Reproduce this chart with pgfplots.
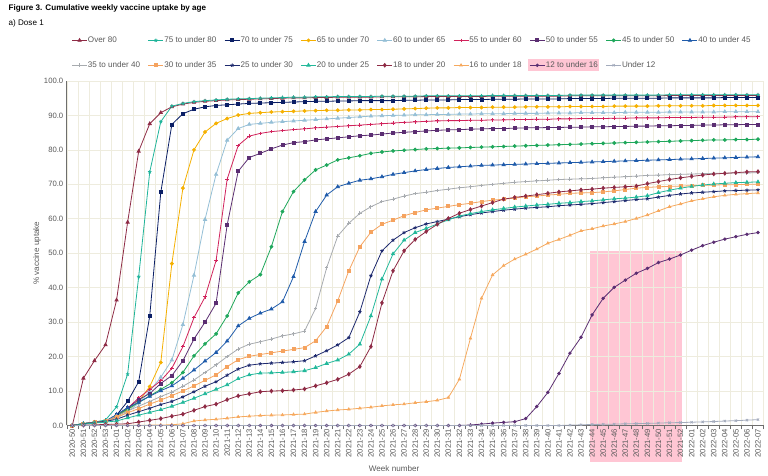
\documentclass[border=0pt]{standalone}
\usepackage{fontspec}
\setmainfont{Liberation Sans}
\usepackage{pgfplots}
\usepackage{pgfplotstable}
\pgfplotsset{compat=1.18}
\definecolor{c80}{RGB}{142,43,69}
\definecolor{c75}{RGB}{31,180,154}
\definecolor{c70}{RGB}{11,31,101}
\definecolor{c65}{RGB}{245,176,0}
\definecolor{c60}{RGB}{149,191,214}
\definecolor{c55}{RGB}{209,34,91}
\definecolor{c50}{RGB}{91,46,114}
\definecolor{c45}{RGB}{30,167,91}
\definecolor{c40}{RGB}{31,91,170}
\definecolor{c35}{RGB}{167,171,175}
\definecolor{c30}{RGB}{245,163,95}
\definecolor{c25}{RGB}{30,42,110}
\definecolor{c20}{RGB}{34,184,154}
\definecolor{c18}{RGB}{142,43,69}
\definecolor{c16}{RGB}{246,169,94}
\definecolor{c12}{RGB}{91,46,114}
\definecolor{cu12}{RGB}{163,171,188}
\definecolor{gridc}{RGB}{238,236,222}
\definecolor{axisgray}{RGB}{110,110,110}
\definecolor{labelc}{RGB}{89,89,89}
\definecolor{pinkhl}{RGB}{255,198,212}

\pgfplotstableread{
x o80 s75 s70 s65 s60 s55 s50 s45 s40 s35 s30 s25 s20 s18 s16 s12 su12
0 0 0 0 0 0 0 0 0 0 0 0 0 0 0 0 0 0
1 13.7 0.6 0.5 0.5 0.5 0.5 0.5 0.5 0.5 0.5 0.5 0.5 0.4 0.1 0 0 0
2 18.8 1.0 0.9 0.9 0.8 0.9 0.9 0.9 0.9 0.9 0.9 0.9 0.7 0.2 0 0 0
3 23.4 1.6 1.3 1.2 1.1 1.2 1.2 1.2 1.2 1.2 1.2 1.2 1.0 0.3 0 0 0
4 36.4 5.4 3.0 2.5 2.0 3.0 2.6 3.0 3.2 2.8 2.4 1.8 1.3 0.4 0.05 0 0
5 59.0 14.9 7.0 4.5 4.0 5.0 5.0 4.7 5.2 4.2 3.7 3.0 2.2 0.5 0.1 0 0
6 79.6 43.2 12.7 7.0 6.5 8.0 7.5 6.7 6.7 5.6 4.9 4.0 3.0 1.0 0.1 0 0
7 87.6 73.6 31.8 11.3 10.0 10.5 9.3 8.6 8.5 7.0 6.2 5.0 3.8 1.5 0.1 0 0
8 90.8 88.2 67.7 18.3 14.0 13.0 12.2 10.5 10.1 8.4 7.4 6.1 4.6 2.0 0.15 0 0
9 92.5 92.7 87.4 47.0 19.0 16.6 14.5 12.4 11.5 9.7 8.7 7.0 5.6 2.7 0.2 0 0
10 93.3 93.5 90.5 68.9 29.3 22.9 18.8 15.4 13.7 11.4 10.0 8.3 6.7 3.3 0.5 0 0
11 93.8 94.0 91.8 80.0 43.6 31.3 25.1 20.2 16.1 13.2 11.5 9.8 7.9 4.4 1.3 0 0
12 94.1 94.3 92.5 85.2 59.8 37.3 30.0 23.7 18.7 15.4 13.1 11.4 9.2 5.5 1.6 0 0
13 94.3 94.5 92.9 87.7 72.9 47.9 35.5 26.6 21.2 17.6 14.7 12.7 10.5 6.2 1.8 0 0
14 94.5 94.7 93.1 89.1 82.8 71.5 58.2 31.8 24.5 20.0 17.1 14.6 11.8 7.5 2.1 0 0
15 94.6 94.8 93.3 90.1 86.2 81.3 73.8 38.5 28.9 22.2 19.1 16.4 13.6 8.6 2.5 0 0
16 94.7 94.9 93.5 90.6 87.4 84.0 77.8 41.7 31.1 23.6 20.1 17.5 14.7 9.2 2.7 0 0
17 94.8 95.0 93.6 90.8 87.7 84.8 79.0 43.8 32.6 24.3 20.6 17.9 15.2 9.8 2.9 0 0
18 94.9 95.1 93.7 91.0 88.0 85.3 80.3 51.9 33.8 25.1 21.1 18.1 15.3 10.0 3.0 0 0
19 95.0 95.2 93.8 91.1 88.2 85.6 81.4 62.1 35.9 26.0 21.6 18.3 15.4 10.1 3.05 0 0
20 95.1 95.3 93.9 91.2 88.4 85.9 82.1 67.9 43.2 26.6 22.1 18.5 15.6 10.3 3.2 0 0
21 95.1 95.3 94.0 91.3 88.6 86.1 82.4 71.3 53.4 27.4 22.6 18.8 15.9 10.6 3.3 0 0
22 95.2 95.4 94.1 91.4 88.8 86.4 82.9 74.2 62.1 34.0 24.6 20.2 16.8 11.5 3.8 0 0
23 95.2 95.4 94.1 91.5 89.0 86.6 83.2 75.6 66.9 45.8 28.7 21.7 18.0 12.4 4.2 0 0
24 95.3 95.5 94.2 91.5 89.2 86.8 83.5 77.1 69.3 55.0 36.2 23.4 19.0 13.4 4.5 0 0
25 95.3 95.5 94.2 91.6 89.4 87.0 83.8 77.7 70.3 58.7 44.9 25.5 20.7 14.9 4.7 0 0
26 95.3 95.5 94.3 91.6 89.6 87.2 84.1 78.3 71.2 61.6 51.9 33.0 23.6 17.1 5.0 0 0
27 95.3 95.5 94.3 91.7 89.8 87.4 84.3 79.0 71.6 63.5 56.1 43.5 31.8 22.9 5.3 0 0
28 95.4 95.6 94.3 91.7 89.9 87.6 84.6 79.4 72.2 65.0 58.4 50.7 42.5 35.6 5.7 0 0
29 95.4 95.6 94.3 91.8 90.0 87.8 84.9 79.7 72.9 65.7 59.6 53.8 49.8 44.9 6.0 0 0
30 95.4 95.6 94.4 91.9 90.1 88.0 85.1 79.9 73.4 66.6 60.9 56.0 53.8 50.7 6.2 0 0
31 95.4 95.6 94.4 92.0 90.2 88.1 85.3 80.1 73.9 67.3 61.8 57.4 56.0 54.0 6.6 0 0
32 95.5 95.7 94.5 92.1 90.2 88.3 85.5 80.3 74.3 67.7 62.6 58.5 57.2 56.3 6.9 0 0
33 95.5 95.7 94.5 92.2 90.3 88.4 85.7 80.4 74.6 68.2 63.1 59.2 58.5 58.4 7.3 0 0
34 95.5 95.7 94.5 92.2 90.3 88.5 85.8 80.5 74.9 68.6 63.6 59.9 59.7 60.1 8.1 0 0
35 95.5 95.7 94.6 92.3 90.4 88.5 85.9 80.6 75.1 69.0 64.1 60.6 60.8 61.6 13.4 0 0
36 95.5 95.7 94.6 92.3 90.4 88.6 86.0 80.7 75.3 69.3 64.5 61.2 61.5 62.7 25.3 0.15 0
37 95.5 95.7 94.6 92.3 90.5 88.6 86.1 80.8 75.5 69.7 65.0 61.7 62.1 63.7 36.9 0.4 0
38 95.6 95.8 94.7 92.4 90.5 88.7 86.2 80.9 75.6 70.0 65.4 62.1 62.6 64.7 43.7 0.7 0
39 95.6 95.8 94.7 92.4 90.5 88.7 86.2 81.0 75.7 70.3 65.7 62.5 63.0 65.7 46.4 0.9 0
40 95.6 95.8 94.7 92.4 90.6 88.8 86.3 81.1 75.8 70.6 66.0 62.8 63.4 66.2 48.3 1.1 0
41 95.6 95.8 94.8 92.5 90.6 88.8 86.4 81.2 75.9 70.8 66.4 63.1 63.7 66.6 49.7 2.0 0
42 95.6 95.8 94.8 92.5 90.6 88.9 86.4 81.3 76.0 71.0 66.6 63.3 64.0 67.0 51.2 5.5 0
43 95.6 95.8 94.8 92.5 90.7 88.9 86.5 81.4 76.1 71.2 66.9 63.5 64.2 67.4 52.9 9.6 0
44 95.6 95.8 94.8 92.5 90.7 89.0 86.5 81.5 76.2 71.4 67.1 63.8 64.5 67.8 54.0 15.1 0
45 95.7 95.9 94.9 92.6 90.7 89.0 86.6 81.6 76.3 71.5 67.4 64.0 64.7 68.1 55.2 21.0 0.1
46 95.7 95.9 94.9 92.6 90.8 89.1 86.6 81.7 76.4 71.6 67.5 64.2 65.0 68.4 56.5 25.6 0.2
47 95.7 95.9 94.9 92.6 90.8 89.1 86.7 81.8 76.5 71.7 67.6 64.4 65.2 68.6 57.1 32.1 0.3
48 95.7 95.9 94.9 92.6 90.8 89.1 86.7 81.9 76.6 71.9 67.8 64.7 65.5 68.9 57.9 36.9 0.35
49 95.7 95.9 95.0 92.7 90.8 89.2 86.8 82.0 76.7 72.1 68.1 65.0 65.8 69.1 58.5 40.1 0.4
50 95.7 95.9 95.0 92.7 90.9 89.2 86.8 82.1 76.8 72.2 68.5 65.3 66.0 69.3 59.2 42.2 0.5
51 95.7 95.9 95.0 92.7 90.9 89.3 86.9 82.2 76.9 72.4 68.9 65.6 66.3 69.5 60.1 44.2 0.55
52 95.7 95.9 95.0 92.7 90.9 89.3 86.9 82.3 77.0 72.6 69.1 65.8 66.7 70.2 61.1 45.6 0.6
53 95.7 95.9 95.0 92.8 90.9 89.3 87.0 82.4 77.1 72.7 69.3 66.3 67.6 70.8 62.3 47.3 0.7
54 95.8 96.0 95.1 92.8 91.0 89.4 87.0 82.5 77.2 72.8 69.4 66.8 68.3 71.4 63.5 48.3 0.8
55 95.8 96.0 95.1 92.8 91.0 89.4 87.1 82.6 77.3 72.9 69.5 67.2 68.9 71.9 64.3 49.5 0.85
56 95.8 96.0 95.1 92.8 91.0 89.4 87.1 82.7 77.4 73.0 69.6 67.5 69.4 72.3 65.2 50.9 0.95
57 95.8 96.0 95.1 92.8 91.0 89.5 87.2 82.8 77.5 73.1 69.7 67.7 69.8 72.7 65.8 52.2 1.05
58 95.8 96.0 95.1 92.9 91.0 89.5 87.2 82.9 77.6 73.2 69.8 67.9 70.1 73.0 66.4 53.2 1.15
59 95.8 96.0 95.2 92.9 91.1 89.5 87.3 82.9 77.7 73.2 69.9 68.1 70.3 73.2 66.8 54.1 1.3
60 95.8 96.0 95.2 92.9 91.1 89.6 87.3 83.0 77.8 73.3 69.9 68.2 70.5 73.4 67.1 54.8 1.4
61 95.8 96.0 95.2 92.9 91.1 89.6 87.4 83.0 77.9 73.3 70.0 68.3 70.6 73.6 67.3 55.5 1.55
62 95.8 96.0 95.2 92.9 91.1 89.6 87.4 83.1 78.0 73.4 70.0 68.4 70.7 73.7 67.5 56.0 1.7
}\uptake

\newcommand{\legtxt}[1]{\makebox[59.5pt][l]{#1}}

\begin{document}
\begin{tikzpicture}
\path (0,0) rectangle (768pt,474pt);
\fill[pinkhl] (528pt,403.3pt) rectangle (599pt,414.7pt);
\fill[pinkhl] (589.9pt,11.6pt) rectangle (682.2pt,223.2pt);
\node[anchor=base west, inner sep=0pt, font=\fontsize{8.1}{9.7}\selectfont\bfseries] at (8.5pt,463.5pt) {Figure 3. Cumulative weekly vaccine uptake by age};
\node[anchor=base west, inner sep=0pt, font=\fontsize{8.1}{9.7}\selectfont] at (8.5pt,448.5pt) {a) Dose 1};
\begin{axis}[
  at={(66.8pt,48.5pt)}, anchor=south west,
  scale only axis, width=696.7pt, height=344.5pt,
  xmin=-0.5, xmax=62.5, ymin=0, ymax=100,
  axis x line*=bottom, axis y line*=left,
  axis line style={draw=axisgray, line width=0.8pt, -},
  xtick={0,...,62},
  xticklabels={2020-50,2020-51,2020-52,2020-53,2021-01,2021-02,2021-03,2021-04,2021-05,2021-06,2021-07,2021-08,2021-09,2021-10,2021-11,2021-12,2021-13,2021-14,2021-15,2021-16,2021-17,2021-18,2021-19,2021-20,2021-21,2021-22,2021-23,2021-24,2021-25,2021-26,2021-27,2021-28,2021-29,2021-30,2021-31,2021-32,2021-33,2021-34,2021-35,2021-36,2021-37,2021-38,2021-39,2021-40,2021-41,2021-42,2021-43,2021-44,2021-45,2021-46,2021-47,2021-48,2021-49,2021-50,2021-51,2021-52,2022-01,2022-02,2022-03,2022-04,2022-05,2022-06,2022-07},
  minor xtick={-0.5,0.5,...,62.5},
  xminorgrids=true, ymajorgrids=true,
  minor x grid style={gridc, line width=0.6pt},
  major y grid style={gridc, line width=0.6pt},
  major tick length=0pt, minor tick length=4pt, tick align=outside,
  minor tick style={axisgray, line width=0.5pt},
  ytick={0,10,...,100},
  yticklabel={\pgfmathprintnumber[fixed,fixed zerofill,precision=1,assume math mode=true]{\tick}},
  ticklabel style={font=\fontsize{7.7}{9}\selectfont, text=labelc},
  xticklabel style={rotate=90, anchor=east},
  ylabel={\% vaccine uptake},
  ylabel style={at={(axis description cs:-0.0426,0.5)}, anchor=center, font=\fontsize{8.1}{9.7}\selectfont, text=labelc},
  xlabel={Week number},
  xlabel style={at={(axis description cs:0.4698,-0.1263)}, anchor=center, font=\fontsize{8.1}{9.7}\selectfont, text=labelc},
  clip=false,
  legend columns=9, legend cell align=left,
  legend style={draw=none, fill=none, at={(axis description cs:0.0067,1.1306)}, anchor=north west,
    font=\fontsize{8.1}{9.7}\selectfont, text=labelc, inner sep=0pt, row sep=16.5pt,
    nodes={inner sep=0.5pt}, /tikz/every even column/.append style={column sep=0pt}},
  legend image code/.code={\draw[mark repeat=2,mark phase=2,#1] plot coordinates {(0pt,0pt) (7.5pt,0pt) (15pt,0pt)};},
  every axis plot/.append style={line width=0.8pt, mark size=1.5pt},
]
\addplot[color=c80, mark=triangle*, mark size=1.8pt] table[x=x,y=o80]{\uptake};
\addlegendentry{\legtxt{Over 80}}
\addplot[color=c75, mark=star, mark size=1.8pt] table[x=x,y=s75]{\uptake};
\addlegendentry{\legtxt{75 to under 80}}
\addplot[color=c70, mark=square*] table[x=x,y=s70]{\uptake};
\addlegendentry{\legtxt{70 to under 75}}
\addplot[color=c65, mark=*] table[x=x,y=s65]{\uptake};
\addlegendentry{\legtxt{65 to under 70}}
\addplot[color=c60, mark=triangle*, mark size=1.8pt] table[x=x,y=s60]{\uptake};
\addlegendentry{\legtxt{60 to under 65}}
\addplot[color=c55, mark=+, mark size=1.8pt, mark options={line width=1pt}] table[x=x,y=s55]{\uptake};
\addlegendentry{\legtxt{55 to under 60}}
\addplot[color=c50, mark=square*] table[x=x,y=s50]{\uptake};
\addlegendentry{\legtxt{50 to under 55}}
\addplot[color=c45, mark=*] table[x=x,y=s45]{\uptake};
\addlegendentry{\legtxt{45 to under 50}}
\addplot[color=c40, mark=triangle*, mark size=1.8pt] table[x=x,y=s40]{\uptake};
\addlegendentry{\legtxt{40 to under 45}}
\addplot[color=c35, mark=+, mark size=1.8pt, mark options={line width=1pt}] table[x=x,y=s35]{\uptake};
\addlegendentry{\legtxt{35 to under 40}}
\addplot[color=c30, mark=square*] table[x=x,y=s30]{\uptake};
\addlegendentry{\legtxt{30 to under 35}}
\addplot[color=c25, mark=star, mark size=1.8pt] table[x=x,y=s25]{\uptake};
\addlegendentry{\legtxt{25 to under 30}}
\addplot[color=c20, mark=triangle*, mark size=1.8pt] table[x=x,y=s20]{\uptake};
\addlegendentry{\legtxt{20 to under 25}}
\addplot[color=c18, mark=diamond*, mark size=1.8pt] table[x=x,y=s18]{\uptake};
\addlegendentry{\legtxt{18 to under 20}}
\addplot[color=c16, mark=triangle*, mark size=1.4pt] table[x=x,y=s16]{\uptake};
\addlegendentry{\legtxt{16 to under 18}}
\addplot[color=c12, mark=*, mark size=1.3pt] table[x=x,y=s12]{\uptake};
\addlegendentry{\legtxt{12 to under 16}}
\addplot[color=cu12, mark=x, mark size=1.6pt] table[x=x,y=su12]{\uptake};
\addlegendentry{\legtxt{Under 12}}
\end{axis}
\end{tikzpicture}
\end{document}
